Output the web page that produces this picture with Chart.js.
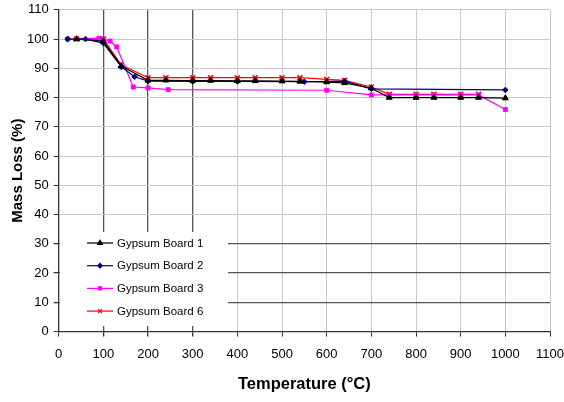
<!DOCTYPE html>
<html>
<head>
<meta charset="utf-8">
<script src="https://cdn.jsdelivr.net/npm/chart.js@4.4.1/dist/chart.umd.min.js"></script>
<style>
  html, body { margin: 0; padding: 0; background: #fff; overflow: hidden; }
  #wrap { width: 574px; height: 408px; position: relative; margin-top: -3px; }
</style>
</head>
<body>
<div id="wrap"><canvas id="chart"></canvas></div>
<script>
// values
const board1X = [40, 100, 140, 200, 240, 300, 340, 400, 440, 500, 540, 600, 640, 700, 740, 800, 840, 900, 940, 1000]
const board1Y = [100, 99.3, 90.8, 85.9, 85.9, 85.8, 85.8, 85.7, 85.7, 85.6, 85.5, 85.3, 85.0, 83.2, 80.0, 80.0, 80.0, 80.0, 80.0, 79.8]

const board2X = [20, 60, 100, 140, 170, 200, 300, 400, 550, 640, 700, 1000]
const board2Y = [100, 100, 98.6, 90.5, 87.1, 85.6, 85.5, 85.5, 85.4, 85.6, 83.0, 82.6]

const board3X = [20, 90, 100, 115, 130, 167, 200, 245, 600, 700, 740, 800, 840, 900, 940, 1000]
const board3Y = [100, 100.3, 100, 99.3, 97.3, 83.6, 83.3, 82.7, 82.5, 80.9, 80.9, 80.9, 80.9, 80.9, 80.9, 75.9]

const board6X = [40, 100, 140, 200, 240, 300, 340, 400, 440, 500, 540, 600, 640, 700, 740, 800, 840, 900, 940]
const board6Y = [100, 100, 91.2, 86.8, 86.8, 86.8, 86.8, 86.8, 86.8, 86.8, 86.8, 86.2, 85.9, 83.6, 81.1, 81.1, 81.1, 81.1, 81.1]

const seriesNames = ['Gypsum Board 1', 'Gypsum Board 2', 'Gypsum Board 3', 'Gypsum Board 6']
const darkXLines = [100, 200, 300]
const darkYLines = [10, 20, 30]

function pts(xs, ys) {
  return xs.map((x, i) => ({ x: x, y: ys[i] }))
}

const styles = [
  { color: '#000000', point: 'triangle', r: 3.4 },
  { color: '#000080', point: 'rectRot', r: 2.8 },
  { color: '#ff00ff', point: 'rect', r: 2.8 },
  { color: '#ff0000', point: 'crossRot', r: 3.5 },
]
const allData = [pts(board1X, board1Y), pts(board2X, board2Y), pts(board3X, board3Y), pts(board6X, board6Y)]

const datasets = allData.map((d, i) => ({
  label: seriesNames[i],
  data: d,
  showLine: true,
  borderColor: styles[i].color,
  backgroundColor: styles[i].color,
  borderWidth: 1.2,
  pointStyle: styles[i].point,
  pointRadius: styles[i].r,
  pointBorderWidth: i === 3 ? 1.6 : 1,
  tension: 0,
}))

// legend drawn as a white box inside the plot, like the original
const boxLegend = {
  id: 'boxLegend',
  afterDatasetsDraw(chart) {
    const ctx = chart.ctx
    const a = chart.chartArea
    const left = a.left + 1.5
    const top = 232 + 3
    ctx.save()
    ctx.fillStyle = '#ffffff'
    ctx.fillRect(left, top, 228 - left, 94)
    ctx.font = '11.5px "Liberation Sans", Arial, sans-serif'
    ctx.textBaseline = 'middle'
    seriesNames.forEach((name, i) => {
      const y = top + 11 + i * 22.7
      ctx.strokeStyle = styles[i].color
      ctx.fillStyle = styles[i].color
      ctx.lineWidth = 1.2
      ctx.beginPath()
      ctx.moveTo(87, y)
      ctx.lineTo(113, y)
      ctx.stroke()
      Chart.helpers.drawPoint(ctx, {
        pointStyle: styles[i].point,
        radius: styles[i].r * 0.8,
        borderWidth: i === 3 ? 1.5 : 1,
      }, 100, y)
      ctx.fillStyle = '#000'
      ctx.fillText(name, 117, y + 0.5)
    })
    ctx.restore()
  }
}

const ctx = document.getElementById('chart')
new Chart(ctx, {
  type: 'scatter',
  data: { datasets: datasets },
  options: {
    responsive: true,
    maintainAspectRatio: false,
    animation: false,
    layout: { padding: { top: 6, left: 9, right: 0, bottom: 11 } },
    plugins: {
      legend: { display: false },
      tooltip: { enabled: false },
    },
    scales: {
      x: {
        type: 'linear',
        min: 0,
        max: 1100,
        ticks: {
          stepSize: 100,
          color: '#000',
          font: { size: 13, family: '"Liberation Sans", Arial, sans-serif' },
          padding: 10,
          maxRotation: 0,
          callback: v => String(v),
        },
        grid: {
          color: c => darkXLines.includes(c.tick.value) ? '#555555' : '#c8c8c8',
          tickColor: '#333',
          tickLength: 5,
          lineWidth: c => darkXLines.includes(c.tick.value) ? 1.3 : 1,
        },
        border: { color: '#333', width: 1.3 },
        title: {
          display: true,
          text: 'Temperature (°C)',
          color: '#000',
          font: { size: 16.5, weight: 'bold', family: '"Liberation Sans", Arial, sans-serif' },
          padding: { top: 2, bottom: 0 },
        },
      },
      y: {
        min: 0,
        max: 110,
        ticks: {
          stepSize: 10,
          color: '#000',
          font: { size: 13, family: '"Liberation Sans", Arial, sans-serif' },
          padding: 5,
        },
        grid: {
          color: c => darkYLines.includes(c.tick.value) ? '#555555' : '#c8c8c8',
          tickColor: '#333',
          tickLength: 5,
          lineWidth: c => darkYLines.includes(c.tick.value) ? 1.3 : 1,
        },
        border: { color: '#333', width: 1.3 },
        title: {
          display: true,
          text: 'Mass Loss (%)',
          color: '#000',
          font: { size: 15, weight: 'bold', family: '"Liberation Sans", Arial, sans-serif' },
          padding: { top: 0, bottom: -5 },
        },
      },
    },
  },
  plugins: [boxLegend],
})
</script>
</body>
</html>
